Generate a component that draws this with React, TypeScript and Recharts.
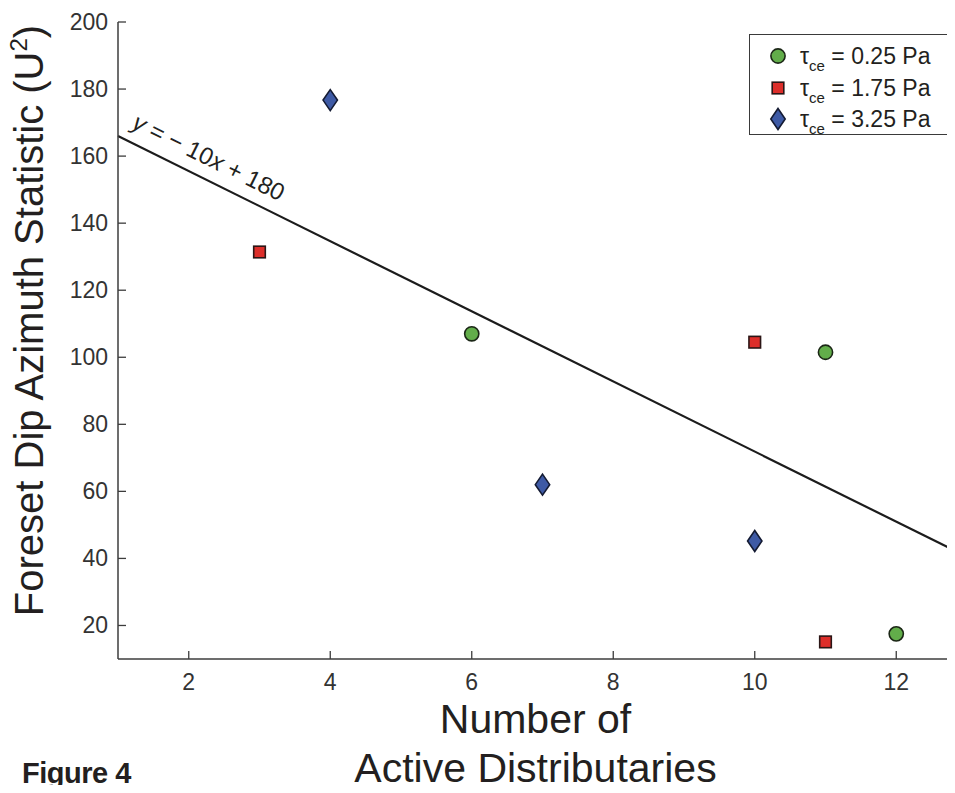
import React from 'react';
import {
  ScatterChart,
  Scatter,
  XAxis,
  YAxis,
  ReferenceLine,
  ReferenceDot,
  Legend,
} from 'recharts';

// ---------- data ----------
const xTicks = [2, 4, 6, 8, 10, 12];
const yTicks = [20, 40, 60, 80, 100, 120, 140, 160, 180, 200];
const tauLabels = ['0.25', '1.75', '3.25'];

const lowX = [6, 11, 12];
const lowY = [107, 101.5, 17.5];
const midX = [3, 10, 11];
const midY = [131.4, 104.5, 15.1];
const highX = [4, 7, 10];
const highY = [176.7, 62, 45.2];

const fitX = [1, 13];
const fitY = [166, 40.5];
const equationText = ['y', ' = \u2212 10', 'x', ' + 180'];
const eqAnchorX = 2.15;

const toPoints = (xs: number[], ys: number[]) => xs.map((x, i) => ({ x, y: ys[i] }));
const lowData = toPoints(lowX, lowY);
const midData = toPoints(midX, midY);
const highData = toPoints(highX, highY);
const eqAnchorY = fitY[0] + ((fitY[1] - fitY[0]) * (eqAnchorX - fitX[0])) / (fitX[1] - fitX[0]);

// ---------- styling ----------
const FONT = '"Liberation Sans", Arial, sans-serif';
const AXIS = '#3c3c3c';
const TEXT = '#231f20';

const CircleMark = (p: any) => (
  <circle cx={p.cx} cy={p.cy} r={7.1} fill="#62ad4a" stroke="#1b2616" strokeWidth={1.6} />
);
const SquareMark = (p: any) => (
  <rect x={p.cx - 5.8} y={p.cy - 5.8} width={11.6} height={11.6} fill="#dd2e2a" stroke="#2b1616" strokeWidth={1.6} />
);
const DiamondMark = (p: any) => (
  <path
    d={`M${p.cx},${p.cy - 10.5} L${p.cx + 7.2},${p.cy} L${p.cx},${p.cy + 10.5} L${p.cx - 7.2},${p.cy} Z`}
    fill="#3e5aa5"
    stroke="#141b33"
    strokeWidth={1.6}
  />
);
const marks = [CircleMark, SquareMark, DiamondMark];

const BottomTick = (p: any) => (
  <g>
    <line x1={p.x} y1={p.y} x2={p.x} y2={p.y - 8} stroke={AXIS} strokeWidth={1.3} />
    <text x={p.x} y={p.y + 31} textAnchor="middle" fontSize={23} fontFamily={FONT} fill="#333">
      {p.payload.value}
    </text>
  </g>
);
const TopTick = (p: any) => (
  <line x1={p.x} y1={p.y} x2={p.x} y2={p.y + 8} stroke={AXIS} strokeWidth={1.3} />
);
const LeftTick = (p: any) => (
  <g>
    <line x1={p.x} y1={p.y} x2={p.x + 8} y2={p.y} stroke={AXIS} strokeWidth={1.3} />
    <text x={p.x - 10} y={p.y + 8} textAnchor="end" fontSize={23} fontFamily={FONT} fill="#333">
      {p.payload.value}
    </text>
  </g>
);
const RightTick = (p: any) => (
  <line x1={p.x} y1={p.y} x2={p.x - 8} y2={p.y} stroke={AXIS} strokeWidth={1.3} />
);

const XTitle = (p: any) => {
  const vb = p.viewBox;
  const cx = vb.x + vb.width / 2 - 7;
  return (
    <g fontFamily={FONT} fontSize={41} fill={TEXT}>
      <text x={cx} y={vb.y + 74} textAnchor="middle">Number of</text>
      <text x={cx} y={vb.y + 123} textAnchor="middle">Active Distributaries</text>
    </g>
  );
};

const YTitle = (p: any) => {
  const vb = p.viewBox;
  const cy = vb.y + vb.height / 2 - 20;
  const bx = 35;
  return (
    <text
      x={bx}
      y={cy}
      transform={`rotate(-90 ${bx} ${cy})`}
      textAnchor="middle"
      fontFamily={FONT}
      fontSize={40}
      fill={TEXT}
    >
      Foreset Dip Azimuth Statistic (U
      <tspan fontSize={24} dy={-16}>2</tspan>
      <tspan dy={16}>)</tspan>
    </text>
  );
};

const EquationLabel = (p: any) => (
  <g transform={`translate(${p.cx},${p.cy}) rotate(26.3)`}>
    <text x={0} y={-13} textAnchor="middle" fontFamily={FONT} fontSize={24} fill={TEXT}>
      <tspan fontStyle="italic">{equationText[0]}</tspan>
      <tspan>{equationText[1]}</tspan>
      <tspan fontStyle="italic">{equationText[2]}</tspan>
      <tspan>{equationText[3]}</tspan>
    </text>
  </g>
);

const LegendBox = () => (
  <div
    style={{
      width: 202,
      height: 101,
      border: '1.5px solid #3a3a3a',
      boxSizing: 'border-box',
      background: '#fff',
      position: 'relative',
      fontFamily: FONT,
    }}
  >
    {tauLabels.map((t, i) => {
      const Mark = marks[i];
      return (
        <div
          key={t}
          style={{
            position: 'absolute',
            left: 0,
            top: 6 + i * 31.5,
            height: 30,
            display: 'flex',
            alignItems: 'center',
          }}
        >
          <svg width={20} height={24} style={{ marginLeft: 18 }}>
            <Mark cx={10} cy={12} />
          </svg>
          <span style={{ marginLeft: 12, fontSize: 23, color: TEXT, whiteSpace: 'nowrap', lineHeight: '30px' }}>
            τ<sub style={{ fontSize: 15, verticalAlign: '-0.45em', lineHeight: 0 }}>ce</sub> = {t} Pa
          </span>
        </div>
      );
    })}
  </div>
);

export default function App() {
  return (
    <div style={{ position: 'relative', width: 947, height: 785, overflow: 'hidden', marginBottom: -8, background: '#fff' }}>
      <ScatterChart width={1000} height={785} margin={{ top: 14, right: 41, bottom: 104, left: 20 }}>
        <XAxis
          dataKey="x"
          type="number"
          domain={[1, 13]}
          ticks={xTicks}
          height={30}
          tickSize={0}
          tickMargin={0}
          tickLine={false}
          axisLine={{ stroke: AXIS, strokeWidth: 1.5 }}
          tick={<BottomTick />}
          label={<XTitle />}
          allowDataOverflow
        />
        <XAxis
          xAxisId="top"
          orientation="top"
          type="number"
          domain={[1, 13]}
          ticks={xTicks}
          height={0}
          tickSize={0}
          tickMargin={0}
          tickLine={false}
          axisLine={{ stroke: AXIS, strokeWidth: 1.5 }}
          tick={<TopTick />}
          allowDataOverflow
        />
        <YAxis
          dataKey="y"
          type="number"
          domain={[10, 200]}
          ticks={yTicks}
          width={90}
          tickSize={0}
          tickMargin={0}
          tickLine={false}
          axisLine={{ stroke: AXIS, strokeWidth: 1.5 }}
          tick={<LeftTick />}
          label={<YTitle />}
          allowDataOverflow
        />
        <YAxis
          yAxisId="right"
          orientation="right"
          type="number"
          domain={[10, 200]}
          ticks={yTicks}
          width={0}
          tickSize={0}
          tickMargin={0}
          tickLine={false}
          axisLine={{ stroke: AXIS, strokeWidth: 1.5 }}
          tick={<RightTick />}
          allowDataOverflow
        />
        <ReferenceLine
          segment={[
            { x: fitX[0], y: fitY[0] },
            { x: fitX[1], y: fitY[1] },
          ]}
          stroke="#1c1c1c"
          strokeWidth={2.2}
          ifOverflow="visible"
        />
        <ReferenceDot x={eqAnchorX} y={eqAnchorY} r={0} shape={<EquationLabel />} ifOverflow="visible" />
        <Scatter name={`τce = ${tauLabels[0]} Pa`} data={lowData} shape={<CircleMark />} isAnimationActive={false} />
        <Scatter name={`τce = ${tauLabels[1]} Pa`} data={midData} shape={<SquareMark />} isAnimationActive={false} />
        <Scatter name={`τce = ${tauLabels[2]} Pa`} data={highData} shape={<DiamondMark />} isAnimationActive={false} />
        <Legend
          layout="vertical"
          align="center"
          verticalAlign="middle"
          content={<LegendBox />}
          wrapperStyle={{ top: 26, left: 741, width: 202, height: 101, bottom: 'auto', right: 'auto' }}
        />
      </ScatterChart>
      <div
        style={{
          position: 'absolute',
          left: 14,
          top: 747,
          fontFamily: FONT,
          fontWeight: 700,
          fontSize: 29,
          color: TEXT,
          lineHeight: '36px',
          letterSpacing: -0.5,
        }}
      >
        Figure 4
      </div>
    </div>
  );
}
